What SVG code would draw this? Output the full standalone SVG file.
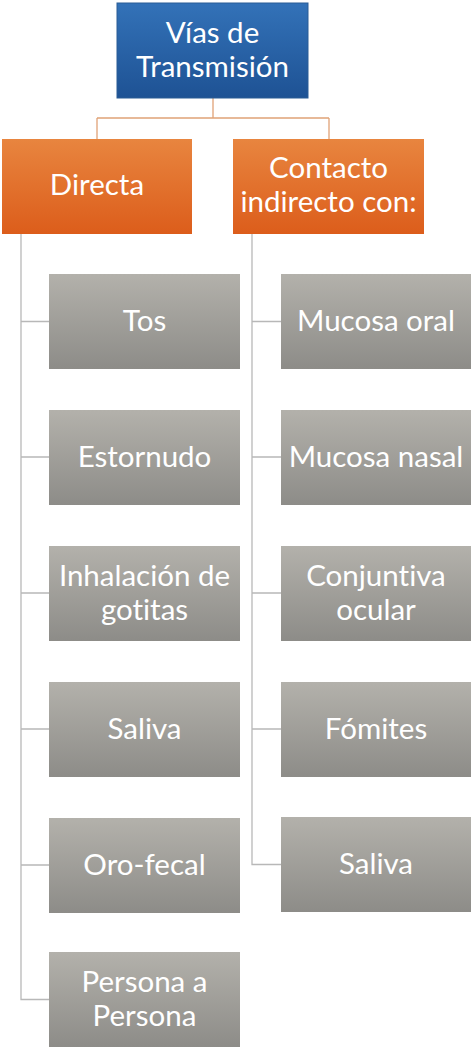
<svg xmlns="http://www.w3.org/2000/svg" width="474" height="1051" viewBox="0 0 474 1051">
<defs>
<linearGradient id="gBlue" x1="0" y1="0" x2="0" y2="1"><stop offset="0" stop-color="#3372b8"/><stop offset="1" stop-color="#1e5294"/></linearGradient>
<linearGradient id="gOrange" x1="0" y1="0" x2="0" y2="1"><stop offset="0" stop-color="#e8853f"/><stop offset="1" stop-color="#dc5d1b"/></linearGradient>
<linearGradient id="gGray" x1="0" y1="0" x2="0" y2="1"><stop offset="0" stop-color="#b3b1ab"/><stop offset="1" stop-color="#8d8c88"/></linearGradient>
<style>
text{font-family:"Lato","Open Sans","Liberation Sans",sans-serif;fill:#ffffff;text-anchor:middle;font-size:29.5px;font-variant-ligatures:none}
.blue{fill:url(#gBlue);stroke:#2a5d95;stroke-width:1}
.orange{fill:url(#gOrange)}
.gray{fill:url(#gGray)}
.co{fill:none;stroke:#e0a277;stroke-width:1.3}
.cg{fill:none;stroke:#b8b8b8;stroke-width:1.3}
</style>
</defs>
<g id="connectors">
<path class="co" d="M213,98 V118 M97,118 H329 M97,118 V139 M329,118 V139"/>
<path class="cg" d="M21,234 V999.5 H49 M21,321.5 H49 M21,457 H49 M21,593 H49 M21,729 H49 M21,865 H49"/>
<path class="cg" d="M252,234 V864.5 H281 M252,321.5 H281 M252,457 H281 M252,593 H281 M252,729 H281"/>
</g>
<g id="root"><rect class="blue" x="117" y="3" width="191" height="95"/><text x="212.5" y="43">Vías de</text><text x="212.5" y="77">Transmisión</text></g>
<g id="directa"><rect class="orange" x="2" y="139" width="190" height="95"/><text x="97" y="195">Directa</text></g>
<g id="indirecto"><rect class="orange" x="233" y="139" width="191" height="95"/><text x="328.5" y="178">Contacto</text><text x="328.5" y="212">indirecto con:</text></g>
<g id="tos"><rect class="gray" x="49" y="274" width="191" height="95"/><text x="144.5" y="331">Tos</text></g>
<g id="estornudo"><rect class="gray" x="49" y="410" width="191" height="95"/><text x="144.5" y="467">Estornudo</text></g>
<g id="inhalacion"><rect class="gray" x="49" y="546" width="191" height="95"/><text x="144.5" y="586">Inhalación de</text><text x="144.5" y="620">gotitas</text></g>
<g id="saliva1"><rect class="gray" x="49" y="682" width="191" height="95"/><text x="144.5" y="739">Saliva</text></g>
<g id="orofecal"><rect class="gray" x="49" y="818" width="191" height="95"/><text x="144.5" y="875">Oro-fecal</text></g>
<g id="persona"><rect class="gray" x="49" y="952" width="191" height="95"/><text x="144.5" y="992">Persona a</text><text x="144.5" y="1026">Persona</text></g>
<g id="mucosaoral"><rect class="gray" x="281" y="274" width="190" height="95"/><text x="376" y="331">Mucosa oral</text></g>
<g id="mucosanasal"><rect class="gray" x="281" y="410" width="190" height="95"/><text x="376" y="467">Mucosa nasal</text></g>
<g id="conjuntiva"><rect class="gray" x="281" y="546" width="190" height="95"/><text x="376" y="586">Conjuntiva</text><text x="376" y="620">ocular</text></g>
<g id="fomites"><rect class="gray" x="281" y="682" width="190" height="95"/><text x="376" y="739">Fómites</text></g>
<g id="saliva2"><rect class="gray" x="281" y="817" width="190" height="95"/><text x="376" y="874">Saliva</text></g>
</svg>
